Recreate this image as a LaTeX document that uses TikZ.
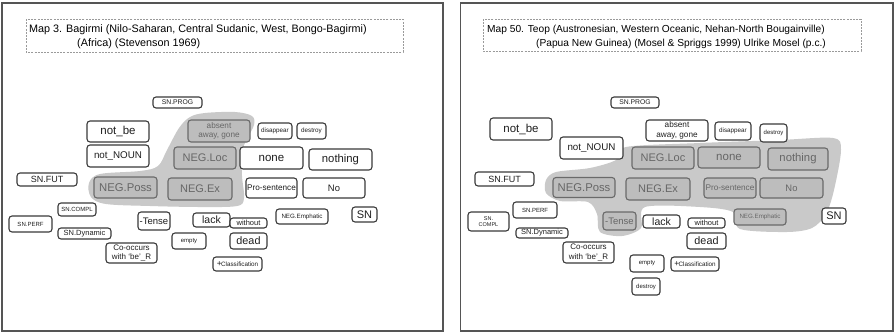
\documentclass[tikz,border=0pt]{standalone}
\usepackage{fontspec}
\setmainfont{Liberation Sans}
\definecolor{blobc}{HTML}{C9C9C9}
\definecolor{gfill}{HTML}{BDBDBD}
\definecolor{gborder}{HTML}{6A6A6A}
\definecolor{gtext}{HTML}{666666}
\definecolor{wborder}{HTML}{3A3A3A}
\definecolor{framec}{HTML}{555555}
\definecolor{dashc}{HTML}{9A9A9A}
\newcommand\fsz[2]{\fontsize{#1}{#2}\selectfont}
\begin{document}
\begin{tikzpicture}[x=1pt,y=-1pt,
  wn/.style={draw=wborder, line width=1.1pt, rounded corners=3pt, fill=white, inner sep=0pt, align=center, text=black!88},
  gn/.style={wn, fill=gfill, draw=gborder, text=gtext},
  titlebox/.style={draw=dashc, line width=0.8pt, dash pattern=on 2pt off 1.2pt},
  frame/.style={draw=framec, line width=1.3pt},
  blob/.style={fill=blobc, draw=none}]
\useasboundingbox (0,0) rectangle (895,333);
\fill[white] (0,0) rectangle (895,333);

% ---------------- frames ----------------
\draw[frame] (2,3) rectangle (443,331);
\draw[frame] (460.5,3) rectangle (893,331);

% ---------------- titles ----------------
\draw[titlebox] (26,19) rectangle (403,52);
\node[anchor=base west, inner sep=0pt, font=\fsz{10.8}{12}] (lt1) at (29,32.5) {Map 3. Bagirmi (Nilo-Saharan, Central Sudanic, West, Bongo-Bagirmi)};
\node[anchor=base west, inner sep=0pt, font=\fsz{10.8}{12}] (lt2) at (77,46) {(Africa) (Stevenson 1969)};

\draw[titlebox] (483,19) rectangle (861,51);
\node[anchor=base west, inner sep=0pt, font=\fsz{10.2}{12}] (rt1) at (487,32.5) {Map 50. Teop (Austronesian, Western Oceanic, Nehan-North Bougainville)};
\node[anchor=base west, inner sep=0pt, font=\fsz{10.2}{12}] (rt2) at (536,46) {(Papua New Guinea) (Mosel \& Spriggs 1999) Ulrike Mosel (p.c.)};

% ---------------- blobs ----------------
\fill[blob] plot[smooth cycle, tension=0.55] coordinates {
  (205,113) (235,112) (252,116) (254,125) (247,139) (242,152) (242,176) (244,198) (237,206)
  (200,207) (150,206) (106,204) (91,197) (89,183) (100,174) (140,171) (158,166) (167,150)
  (179,128) (190,117)};

\fill[blob] plot[smooth cycle, tension=0.5] coordinates {
  (626,147) (700,143) (780,140) (833,138) (841,150) (834,190) (826,214) (812,228) (787,232)
  (740,229) (733,212) (700,207) (645,207) (641,228) (622,236) (600,232) (597,214) (588,202)
  (560,201) (546,193) (546,180) (556,172) (590,168) (616,160)};

% ---------------- left panel nodes ----------------
\node[wn, minimum width=49pt, minimum height=11pt, font=\fsz{6.8}{8}] (lsnprog) at (177.5,102.5) {SN.PROG};
\node[wn, minimum width=62pt, minimum height=21pt, font=\fsz{11.5}{13}] (lnotbe) at (118,131.5) {not\_be};
\node[wn, minimum width=62pt, minimum height=22pt, font=\fsz{9.8}{12}] (lnotnoun) at (118,156) {not\_NOUN};
\node[gn, minimum width=62pt, minimum height=22pt, font=\fsz{8.2}{9.5}] (labsent) at (219,131) {absent\\away, gone};
\node[wn, minimum width=34pt, minimum height=16pt, font=\fsz{6.3}{8}] (ldisappear) at (275,131) {disappear};
\node[wn, minimum width=29pt, minimum height=16pt, font=\fsz{6.3}{8}] (ldestroy) at (311.5,131) {destroy};
\node[gn, minimum width=62pt, minimum height=22pt, font=\fsz{11}{13}] (lnegloc) at (205,158) {NEG.Loc};
\node[wn, minimum width=63pt, minimum height=22pt, font=\fsz{11.5}{13}] (lnone) at (271.5,158) {none};
\node[wn, minimum width=63pt, minimum height=21pt, font=\fsz{11.3}{13}] (lnothing) at (340.5,159.5) {nothing};
\node[wn, minimum width=60pt, minimum height=13pt, font=\fsz{9}{11}] (lsnfut) at (47,179.5) {SN.FUT};
\node[gn, minimum width=63pt, minimum height=21pt, font=\fsz{11.3}{13}] (lnegposs) at (125.5,187.5) {NEG.Poss};
\node[gn, minimum width=64pt, minimum height=22pt, font=\fsz{11}{13}] (lnegex) at (200,189) {NEG.Ex};
\node[wn, minimum width=51pt, minimum height=20pt, font=\fsz{8.2}{10}] (lpro) at (271.5,188) {Pro-sentence};
\node[wn, minimum width=62pt, minimum height=20pt, font=\fsz{9.4}{11}] (lno) at (334,188) {No};
\node[wn, minimum width=38pt, minimum height=13pt, font=\fsz{6}{7}] (lsncompl) at (77,209.5) {SN.COMPL};
\node[wn, minimum width=43pt, minimum height=16pt, font=\fsz{6}{7}] (lsnperf) at (30.5,224) {SN.PERF};
\node[wn, minimum width=53pt, minimum height=11pt, font=\fsz{7.5}{9}] (lsndyn) at (84.5,233.5) {SN.Dynamic};
\node[wn, minimum width=32pt, minimum height=18pt, font=\fsz{9.5}{11}] (ltense) at (154,221) {-Tense};
\node[wn, minimum width=37pt, minimum height=14pt, font=\fsz{10.5}{12}] (llack) at (211.5,220) {lack};
\node[wn, minimum width=37pt, minimum height=10pt, font=\fsz{7.5}{9}] (lwithout) at (248.5,223) {without};
\node[wn, minimum width=52pt, minimum height=15pt, font=\fsz{6.2}{7}] (lnegemph) at (302,216.5) {NEG.Emphatic};
\node[wn, minimum width=25pt, minimum height=15pt, font=\fsz{11}{13}] (lsn) at (364.5,214.5) {SN};
\node[wn, minimum width=34pt, minimum height=16pt, font=\fsz{6}{7}] (lempty) at (189,241) {empty};
\node[wn, minimum width=37pt, minimum height=16pt, font=\fsz{10.8}{12}] (ldead) at (248.5,241) {dead};
\node[wn, minimum width=51pt, minimum height=20pt, font=\fsz{8}{9.5}] (lcooc) at (131.5,253) {Co-occurs\\with ‘be’\_R};
\node[wn, minimum width=49pt, minimum height=14pt, font=\fsz{6.3}{7}] (lclass) at (237.5,264) {\raisebox{0.6pt}{\fsz{8.5}{9}+}\hspace{-0.6pt}Classification};

% ---------------- right panel nodes ----------------
\node[wn, minimum width=48pt, minimum height=11pt, font=\fsz{6.8}{8}] (rsnprog) at (635,102.5) {SN.PROG};
\node[wn, minimum width=62pt, minimum height=22pt, font=\fsz{11.5}{13}] (rnotbe) at (521,129) {not\_be};
\node[wn, minimum width=63pt, minimum height=22pt, font=\fsz{9.8}{12}] (rnotnoun) at (591.5,148) {not\_NOUN};
\node[wn, minimum width=62pt, minimum height=21pt, font=\fsz{8.2}{9.5}] (rabsent) at (677,130.5) {absent\\away, gone};
\node[wn, minimum width=36pt, minimum height=18pt, font=\fsz{6.3}{8}] (rdisappear) at (733,131) {disappear};
\node[wn, minimum width=27pt, minimum height=18pt, font=\fsz{6}{8}] (rdestroy) at (773.5,133) {destroy};
\node[gn, minimum width=62pt, minimum height=22pt, font=\fsz{11}{13}] (rnegloc) at (663,158) {NEG.Loc};
\node[gn, minimum width=62pt, minimum height=21pt, font=\fsz{11.5}{13}] (rnone) at (729,157.5) {none};
\node[gn, minimum width=60pt, minimum height=22pt, font=\fsz{11.3}{13}] (rnothing) at (798,159) {nothing};
\node[wn, minimum width=59pt, minimum height=14pt, font=\fsz{9}{11}] (rsnfut) at (504.5,179) {SN.FUT};
\node[gn, minimum width=62pt, minimum height=20pt, font=\fsz{11.3}{13}] (rnegposs) at (584,187.5) {NEG.Poss};
\node[gn, minimum width=64pt, minimum height=22pt, font=\fsz{11}{13}] (rnegex) at (658,189) {NEG.Ex};
\node[gn, minimum width=52pt, minimum height=20pt, font=\fsz{8.2}{10}] (rpro) at (730,188) {Pro-sentence};
\node[gn, minimum width=63pt, minimum height=20pt, font=\fsz{9.4}{11}] (rno) at (791.5,188) {No};
\node[wn, minimum width=41pt, minimum height=19pt, font=\fsz{5.5}{6.5}] (rsncompl) at (488.5,221.5) {SN.\\COMPL};
\node[wn, minimum width=44pt, minimum height=16pt, font=\fsz{6}{7}] (rsnperf) at (535,210) {SN.PERF};
\node[wn, minimum width=52pt, minimum height=10pt, font=\fsz{7.5}{9}] (rsndyn) at (542,233) {SN.Dynamic};
\node[gn, minimum width=33pt, minimum height=18pt, font=\fsz{9.5}{11}] (rtense) at (619.5,221) {-Tense};
\node[wn, minimum width=37pt, minimum height=13pt, font=\fsz{10.5}{12}] (rlack) at (661.5,221.5) {lack};
\node[wn, minimum width=37pt, minimum height=10pt, font=\fsz{7.5}{9}] (rwithout) at (706.5,223) {without};
\node[wn, minimum width=39pt, minimum height=16pt, font=\fsz{10.8}{12}] (rdead) at (706.5,241) {dead};
\node[gn, minimum width=52pt, minimum height=16pt, font=\fsz{6.2}{7}] (rnegemph) at (760,217) {NEG.Emphatic};
\node[wn, minimum width=24pt, minimum height=16pt, font=\fsz{11}{13}] (rsn) at (834,216) {SN};
\node[wn, minimum width=51pt, minimum height=21pt, font=\fsz{8}{9.5}] (rcooc) at (588.5,252.5) {Co-occurs\\with ‘be’\_R};
\node[wn, minimum width=34pt, minimum height=17pt, font=\fsz{6}{7}] (rempty) at (647,263.5) {empty};
\node[wn, minimum width=48pt, minimum height=14pt, font=\fsz{6.3}{7}] (rclass) at (695,264) {\raisebox{0.6pt}{\fsz{8.5}{9}+}\hspace{-0.6pt}Classification};
\node[wn, minimum width=28pt, minimum height=17pt, font=\fsz{6}{7}] (rdestroy2) at (646,286.5) {destroy};
\end{tikzpicture}
\end{document}
